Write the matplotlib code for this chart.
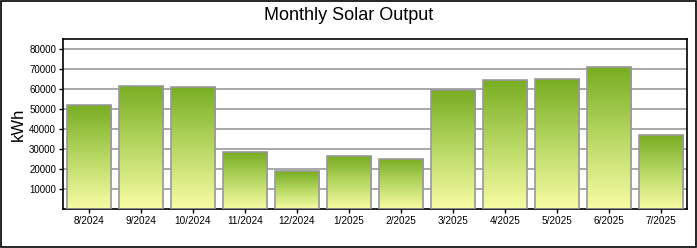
import numpy as np
import matplotlib
matplotlib.use("Agg")
import matplotlib.pyplot as plt
from matplotlib.colors import LinearSegmentedColormap

plt.rcParams['font.family'] = ['Liberation Sans', 'DejaVu Sans']

# data
months = ['8/2024', '9/2024', '10/2024', '11/2024', '12/2024', '1/2025',
          '2/2025', '3/2025', '4/2025', '5/2025', '6/2025', '7/2025']
output_kwh = [51900, 61700, 61200, 28400, 18900, 26400,
              25200, 59500, 64300, 64800, 70800, 36800]
y_ticks = [10000, 20000, 30000, 40000, 50000, 60000, 70000, 80000]

fig = plt.figure(figsize=(6.97, 2.48), dpi=100)
ax = fig.add_axes([63 / 697, 1 - 209 / 248, 624 / 697, 170 / 248])

# outer frame of the whole picture
fig.patches.append(plt.Rectangle((0.0015, 0.003), 0.997, 0.992, transform=fig.transFigure,
                                 fill=False, edgecolor='black', linewidth=1.2))

cmap = LinearSegmentedColormap.from_list('solar', ['#f8fca4', '#b8d864', '#78ad22'])
grad = np.linspace(0, 1, 256).reshape(-1, 1)

x = np.arange(len(months))
width = 0.85
bars = ax.bar(x, output_kwh, width=width, facecolor='none', edgecolor='#999999',
              linewidth=1.2, zorder=3)
for b in bars:
    x0, y0 = b.get_x(), b.get_y()
    im = ax.imshow(grad, cmap=cmap, origin='lower', aspect='auto',
                   extent=[x0, x0 + b.get_width(), y0, y0 + b.get_height()], zorder=2)
    im.set_clip_path(b)

ax.set_xlim(-0.5, len(months) - 0.5)
ax.set_ylim(0, 85000)
ax.set_yticks(y_ticks)
ax.set_yticklabels([str(v) for v in y_ticks], fontsize=7)
ax.set_xticks(x)
ax.set_xticklabels(months, fontsize=7.2)
ax.tick_params(axis='both', direction='out', length=3, width=1, color='black', pad=2)
ax.grid(axis='y', color='#999999', linewidth=1.2, zorder=1)
ax.set_axisbelow(True)
for s in ax.spines.values():
    s.set_linewidth(1.2)
    s.set_color('black')

ax.set_ylabel('kWh', fontsize=12, labelpad=2)
fig.text(0.5, 1 - 16 / 248, 'Monthly Solar Output', ha='center', va='center', fontsize=13)

fig.savefig('out.png', dpi=100)
